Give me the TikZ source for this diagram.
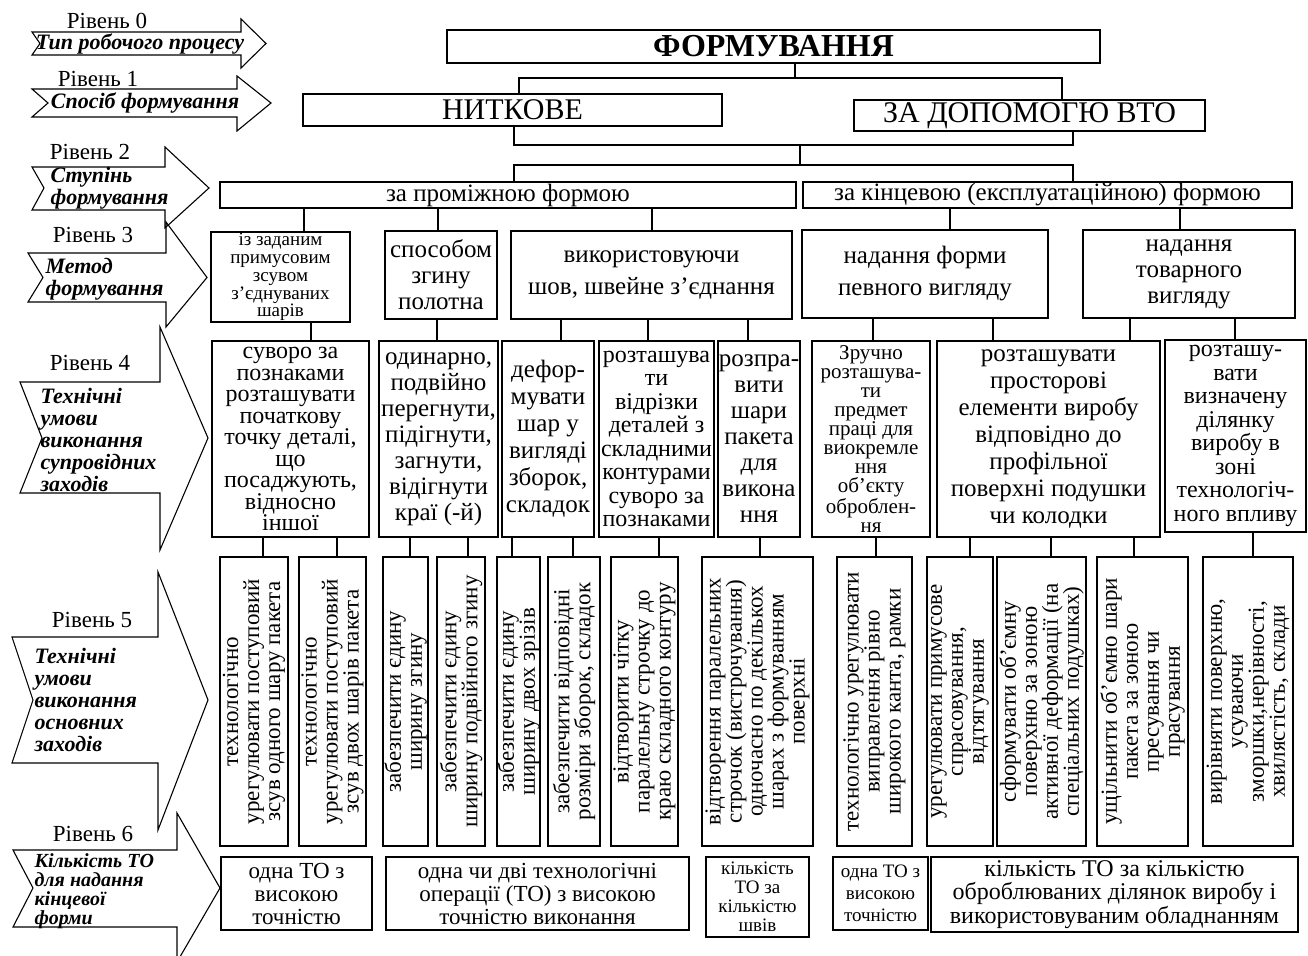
\documentclass[tikz,border=0pt]{standalone}
\usepackage{fontspec}
\setmainfont{Liberation Serif}
\usetikzlibrary{positioning}

\begin{document}
\begin{tikzpicture}[x=1pt,y=-1pt,line width=1.1pt,
  box/.style={draw,align=center,inner sep=0pt},
  vbox/.style={box,rotate=90,minimum width=289,font=\fontsize{23}{21}\selectfont},
  lvl/.style={inner sep=0pt,font=\fontsize{23}{23}\selectfont},
  tag/.style={inner sep=0pt,align=left,font=\fontsize{22}{22}\selectfont\bfseries\itshape}]
  \fill[white] (0,0) rectangle (1308,955);
  \useasboundingbox (0,0) rectangle (1308,955);

  % level arrows on the left
  \draw (32,32) -- (241,32) -- (241,19) -- (266,43.5) -- (241,68) -- (241,55) -- (32,55) -- (40,43.5) -- cycle;
  \draw (32,89) -- (237,89) -- (237,76) -- (271,103) -- (237,131) -- (237,117) -- (32,117) -- (48,103) -- cycle;
  \draw (32,167) -- (165,167) -- (165,147) -- (209,188) -- (165,228) -- (165,210) -- (32,210) -- (44,188) -- cycle;
  \draw (28,253) -- (166,253) -- (166,222) -- (207,277.5) -- (166,327) -- (166,302) -- (28,302) -- (43,277.5) -- cycle;
  \draw (20,382) -- (160,382) -- (160,327) -- (208,438) -- (160,550) -- (160,493) -- (20,493) -- (42,438) -- cycle;
  \draw (12,637) -- (158,637) -- (158,572) -- (208,700) -- (158,830) -- (158,763) -- (12,763) -- (33,700) -- cycle;
  \draw (13,850) -- (177,850) -- (177,813) -- (220,888) -- (177,962) -- (177,927) -- (13,927) -- (33,888) -- cycle;

  \node[lvl] (r0) at (107,21) {Рівень 0};
  \node[lvl] (r1) at (98,79) {Рівень 1};
  \node[lvl] (r2) at (90,152) {Рівень 2};
  \node[lvl] (r3) at (93,235) {Рівень 3};
  \node[lvl] (r4) at (90,363) {Рівень 4};
  \node[lvl] (r5) at (92,620) {Рівень 5};
  \node[lvl] (r6) at (93,834) {Рівень 6};

  \node[tag] (t0) at (140,44) {Тип робочого процесу};
  \node[tag] (t1) at (145,103) {Спосіб формування};
  \node[tag,anchor=west] (t2) at (50,188) {Ступінь\\формування};
  \node[tag,anchor=west] (t3) at (45,279) {Метод\\формування};
  \node[tag,anchor=west] (t4) at (40,440) {Технічні\\умови\\виконання\\супровідних\\заходів};
  \node[tag,anchor=west] (t5) at (34,700) {Технічні\\умови\\виконання\\основних\\заходів};
  \node[tag,anchor=west,font=\fontsize{20}{19}\selectfont\bfseries\itshape] (t6) at (34,891) {Кількість ТО\\для надання\\кінцевої\\форми};

  % levels 0-2
  \node[box,minimum width=653,minimum height=33,font=\fontsize{32}{32}\selectfont\bfseries] (form) at (773.5,46.5) {ФОРМУВАННЯ};
  \node[box,minimum width=419,minimum height=32,font=\fontsize{30}{30}\selectfont] (nit) at (512.5,110) {НИТКОВЕ};
  \node[box,minimum width=351,minimum height=31,font=\fontsize{30}{30}\selectfont] (vto) at (1029.5,115.5) {ЗА ДОПОМОГЮ ВТО};
  \node[box,minimum width=576,minimum height=26,font=\fontsize{25}{25}\selectfont] (prom) at (508,195) {за проміжною формою};
  \node[box,minimum width=489,minimum height=26,font=\fontsize{25}{25}\selectfont] (kin) at (1047.5,195) {за кінцевою (експлуатаційною) формою};

  % level 3
  \node[box,minimum width=139,minimum height=90,font=\fontsize{19}{17.8}\selectfont] (l3a) at (280.5,277) {із заданим\\примусовим\\зсувом\\з’єднуваних\\шарів};
  \node[box,minimum width=112,minimum height=88,font=\fontsize{25}{26}\selectfont] (l3b) at (441,275) {способом\\згину\\полотна};
  \node[box,minimum width=281,minimum height=88,font=\fontsize{25}{32}\selectfont] (l3c) at (651.5,275) {використовуючи\\шов, швейне з’єднання};
  \node[box,minimum width=246,minimum height=88,font=\fontsize{25}{32}\selectfont] (l3d) at (925,274) {надання форми\\певного вигляду};
  \node[box,minimum width=212,minimum height=88,font=\fontsize{25}{26}\selectfont] (l3e) at (1189,274) {надання\\товарного\\вигляду};

  % level 4
  \node[box,minimum width=157,minimum height=196,font=\fontsize{24}{21.5}\selectfont] (a1) at (290.5,439) {суворо за\\познаками\\розташувати\\початкову\\точку деталі,\\що\\посаджують,\\відносно\\іншої};
  \node[box,minimum width=119,minimum height=196,font=\fontsize{25}{26}\selectfont] (a2) at (438.5,439) {одинарно,\\подвійно\\перегнути,\\підігнути,\\загнути,\\відігнути\\краї (-й)};
  \node[box,minimum width=92,minimum height=196,font=\fontsize{25}{27}\selectfont] (a3) at (548,439) {дефор-\\мувати\\шар у\\вигляді\\зборок,\\складок};
  \node[box,minimum width=115,minimum height=196,font=\fontsize{24}{23.5}\selectfont] (a4) at (656.5,439) {розташува\\ти\\відрізки\\деталей з\\складними\\контурами\\суворо за\\познаками};
  \node[box,minimum width=82,minimum height=196,font=\fontsize{25}{26}\selectfont] (a5) at (759,439) {розпра-\\вити\\шари\\пакета\\для\\викона\\ння};
  \node[box,minimum width=118,minimum height=196,font=\fontsize{21}{19}\selectfont] (a6) at (871,439) {Зручно\\розташува-\\ти\\предмет\\праці для\\виокремле\\ння\\об’єкту\\оброблен-\\ня};
  \node[box,minimum width=223,minimum height=196,font=\fontsize{25}{27}\selectfont] (a7) at (1048.5,439) {розташувати\\просторові\\елементи виробу\\відповідно до\\профільної\\поверхні подушки\\чи колодки};
  \node[box,minimum width=141,minimum height=192,font=\fontsize{24}{23.5}\selectfont] (a8) at (1235.5,436) {розташу-\\вати\\визначену\\ділянку\\виробу в\\зоні\\технологіч-\\ного впливу};

  % level 5
  \node[vbox,minimum height=68] (b1) at (254,701.5) {технологічно\\урегулювати поступовий\\зсув одного шару пакета};
  \node[vbox,minimum height=67] (b2) at (332.5,701.5) {технологічно\\урегулювати поступовий\\зсув двох шарів пакета};
  \node[vbox,minimum height=45] (b3) at (405.5,701.5) {забезпечити єдину\\ширину згину};
  \node[vbox,minimum height=48] (b4) at (461,701.5) {забезпечити єдину\\ширину подвійного згину};
  \node[vbox,minimum height=43] (b5) at (518.5,701.5) {забезпечити єдину\\ширину двох зрізів};
  \node[vbox,minimum height=52] (b6) at (574,701.5) {забезпечити відповідні\\розміри зборок, складок};
  \node[vbox,minimum height=67] (b7) at (644.5,701.5) {відтворити чітку\\паралельну строчку до\\краю складного контуру};
  \node[vbox,minimum height=111] (b8) at (757.5,701.5) {відтворення паралельних\\строчок (вистрочування)\\одночасно по декількох\\шарах з формуванням\\поверхні};
  \node[vbox,minimum height=75] (b9) at (874.5,701.5) {технологічно урегулювати\\виправлення рівно\\широкого канта, рамки};
  \node[vbox,minimum height=66] (b10) at (960,701.5) {урегулювати примусове\\спрасовування,\\відтягування};
  \node[vbox,minimum height=89] (b11) at (1041.5,701.5) {сформувати об’ємну\\поверхню за зоною\\активної деформації (на\\спеціальних подушках)};
  \node[vbox,minimum height=91] (b12) at (1142.5,701.5) {ущільнити об’ємно шари\\пакета за зоною\\пресування чи\\прасування};
  \node[vbox,minimum height=90] (b13) at (1248,701.5) {вирівняти поверхню,\\усуваючи\\зморшки,нерівності,\\хвилястість, склади};

  % level 6
  \node[box,minimum width=151,minimum height=73,font=\fontsize{23}{23}\selectfont] (c1) at (296.5,893.5) {одна ТО з\\високою\\точністю};
  \node[box,minimum width=303,minimum height=73,font=\fontsize{23}{23}\selectfont] (c2) at (537.5,893.5) {одна чи дві технологічні\\операції (ТО) з високою\\точністю виконання};
  \node[box,minimum width=103,minimum height=80,font=\fontsize{19}{19}\selectfont] (c3) at (757.5,897) {кількість\\ТО за\\кількістю\\швів};
  \node[box,minimum width=95,minimum height=73,font=\fontsize{19}{22}\selectfont] (c4) at (880.5,893.5) {одна ТО з\\високою\\точністю};
  \node[box,minimum width=367,minimum height=75,font=\fontsize{24}{23.5}\selectfont] (c5) at (1114.5,894.5) {кількість ТО за кількістю\\оброблюваних ділянок виробу і\\використовуваним обладнанням};

  % connectors
  \coordinate (bus0) at (795,78);
  \coordinate (bus1) at (800,145);
  \coordinate (bus2) at (800,165);
  \draw (form.south -| bus0) -- (bus0);
  \draw (nit.north -| 519,0) |- (bus0) -| (vto.north -| 1062,0);
  \draw (nit.south -| 514,0) |- (bus1) -| (vto.south -| 1073,0);
  \draw (bus1) -- (bus2);
  \draw (prom.north -| 514,0) |- (bus2) -| (kin.north -| 1073,0);

  \draw (prom.south -| 304,0) -- (l3a.north -| 304,0);
  \draw (prom.south -| 438,0) -- (l3b.north -| 438,0);
  \draw (prom.south -| 652,0) -- (l3c.north -| 652,0);
  \draw (kin.south -| 950,0) -- (l3d.north -| 950,0);
  \draw (kin.south -| 1180,0) -- (l3e.north -| 1180,0);

  \draw (l3a.south -| 311,0) -- (a1.north -| 311,0);
  \draw (l3b.south -| 437,0) -- (a2.north -| 437,0);
  \draw (l3c.south -| 561,0) -- (a3.north -| 561,0);
  \draw (l3c.south -| 648,0) -- (a4.north -| 648,0);
  \draw (l3c.south -| 748,0) -- (a5.north -| 748,0);
  \draw (l3d.south -| 873,0) -- (a6.north -| 873,0);
  \draw (l3d.south -| 993,0) -- (a7.north -| 993,0);
  \draw (l3e.south -| 1130,0) -- (a7.north -| 1130,0);
  \draw (l3e.south -| 1235,0) -- (a8.north -| 1235,0);

  \draw (a1.south -| 263,0) -- (b1.east -| 263,0);
  \draw (a1.south -| 337,0) -- (b2.east -| 337,0);
  \draw (a2.south -| 410,0) -- (b3.east -| 410,0);
  \draw (a2.south -| 468,0) -- (b4.east -| 468,0);
  \draw (a3.south -| 512,0) -- (b5.east -| 512,0);
  \draw (a3.south -| 573,0) -- (b6.east -| 573,0);
  \draw (a4.south -| 659,0) -- (b7.east -| 659,0);
  \draw (a5.south -| 760,0) -- (b8.east -| 760,0);
  \draw (a6.south -| 876,0) -- (b9.east -| 876,0);
  \draw (a7.south -| 970,0) -- (b10.east -| 970,0);
  \draw (a7.south -| 1051,0) -- (b11.east -| 1051,0);
  \draw (a7.south -| 1134,0) -- (b12.east -| 1134,0);
  \draw (a8.south -| 1253,0) -- (b13.east -| 1253,0);
\end{tikzpicture}
\end{document}
